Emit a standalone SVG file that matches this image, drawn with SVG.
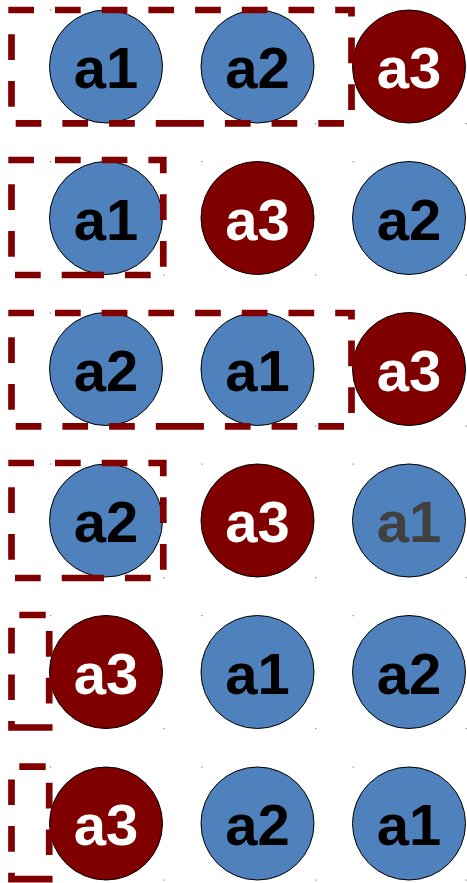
<svg xmlns="http://www.w3.org/2000/svg" width="467" height="883" viewBox="0 0 467 883">
<style>
.b{fill:#4F81BD;stroke:#000;stroke-width:1}
.r{fill:#800000;stroke:#000;stroke-width:1}
.t{font-family:"Liberation Sans",Arial,sans-serif;font-weight:bold;font-size:58px;text-anchor:middle}
.k{fill:#000}.w{fill:#fff}.g{fill:#404040}
.box{fill:none;stroke:#800000;stroke-width:6.7;stroke-linecap:butt}
.p{fill:#808080}
</style>
<rect width="467" height="883" fill="#fff"/>
<g id="dots">
<rect class="p" x="50" y="9.5" width="1.2" height="1.2"/><rect class="p" x="315" y="123" width="1.2" height="1.2"/><rect class="p" x="465.5" y="123" width="1.2" height="1.2"/>
<rect class="p" x="50" y="161" width="1.2" height="1.2"/><rect class="p" x="201.3" y="161" width="1.2" height="1.2"/><rect class="p" x="352.6" y="161" width="1.2" height="1.2"/>
<rect class="p" x="163.3" y="274.5" width="1.2" height="1.2"/><rect class="p" x="315" y="274.5" width="1.2" height="1.2"/><rect class="p" x="465.5" y="274.5" width="1.2" height="1.2"/>
<rect class="p" x="50" y="312.5" width="1.2" height="1.2"/><rect class="p" x="315" y="425.5" width="1.2" height="1.2"/><rect class="p" x="465.5" y="425.5" width="1.2" height="1.2"/>
<rect class="p" x="50" y="463.5" width="1.2" height="1.2"/><rect class="p" x="201.3" y="463.5" width="1.2" height="1.2"/><rect class="p" x="352.6" y="463.5" width="1.2" height="1.2"/>
<rect class="p" x="163.3" y="577" width="1.2" height="1.2"/><rect class="p" x="315" y="577" width="1.2" height="1.2"/><rect class="p" x="465.5" y="577" width="1.2" height="1.2"/>
<rect class="p" x="50" y="615" width="1.2" height="1.2"/><rect class="p" x="201.3" y="615" width="1.2" height="1.2"/><rect class="p" x="352.6" y="615" width="1.2" height="1.2"/>
<rect class="p" x="163.3" y="728" width="1.2" height="1.2"/><rect class="p" x="315" y="728" width="1.2" height="1.2"/><rect class="p" x="465.5" y="728" width="1.2" height="1.2"/>
<rect class="p" x="50" y="766.5" width="1.2" height="1.2"/><rect class="p" x="201.3" y="766.5" width="1.2" height="1.2"/><rect class="p" x="352.6" y="766.5" width="1.2" height="1.2"/>
<rect class="p" x="163.3" y="879.5" width="1.2" height="1.2"/><rect class="p" x="315" y="879.5" width="1.2" height="1.2"/><rect class="p" x="465.5" y="879.5" width="1.2" height="1.2"/>
</g>
<defs>
<path id="wide" class="box" d="M8.3 10H34M55 10H80.7M101.7 10H127.4M148.4 10H174.1M195.1 10H220.8M241.8 10H267.5M288.5 10H314.2M335.2 10H354.85M351.5 6.65V16.6M351.5 37.6V63.3M351.5 84.3V110M11.5 34.3V60M11.5 81V106.7M15.7 123.3H41.4M62.4 123.3H88.1M109.1 123.3H134.8M155.8 123.3H203.9M224.9 123.3H250.6M271.6 123.3H297.3M318.3 123.3H344"/>
<path id="mid" class="box" d="M8.3 160H34M55 160H80.7M101.7 160H127.4M148.4 160H166.65M163.3 156.65V173.3M163.3 194.3V220M163.3 241V266.7M11.5 184.3V210M11.5 231V256.7M15 275H40.7M61.7 275H104M125 275H150.7"/>
<path id="narrow" class="box" d="M19.3 615H45.7M11.5 627.7V653.4M11.5 674.4V700.1M11.5 721.1V730.85M49.2 631V656.7M49.2 677.7V703.4M49.2 724.4V730.85M8.15 727.5H52.55"/>
</defs>
<g id="row1">
<g id="r1a1"><circle class="b" cx="106" cy="66.5" r="56.5"/><text class="t k" x="106" y="88">a1</text></g>
<g id="r1a2"><circle class="b" cx="257.5" cy="66.5" r="56.5"/><text class="t k" x="257.5" y="88">a2</text></g>
<g id="r1a3"><circle class="r" cx="409" cy="66.5" r="56.5"/><text class="t w" x="409" y="88">a3</text></g>
<use id="r1box" href="#wide"/>
</g>
<g id="row2">
<g id="r2a1"><circle class="b" cx="106" cy="218" r="56.5"/><text class="t k" x="106" y="239.5">a1</text></g>
<g id="r2a3"><circle class="r" cx="257.5" cy="218" r="56.5"/><text class="t w" x="257.5" y="239.5">a3</text></g>
<g id="r2a2"><circle class="b" cx="409" cy="218" r="56.5"/><text class="t k" x="409" y="239.5">a2</text></g>
<use id="r2box" href="#mid"/>
</g>
<g id="row3">
<g id="r3a2"><circle class="b" cx="106" cy="369" r="56.5"/><text class="t k" x="106" y="390.5">a2</text></g>
<g id="r3a1"><circle class="b" cx="257.5" cy="369" r="56.5"/><text class="t k" x="257.5" y="390.5">a1</text></g>
<g id="r3a3"><circle class="r" cx="409" cy="369" r="56.5"/><text class="t w" x="409" y="390.5">a3</text></g>
<use id="r3box" href="#wide" y="303"/>
</g>
<g id="row4">
<g id="r4a2"><circle class="b" cx="106" cy="520.5" r="56.5"/><text class="t k" x="106" y="542">a2</text></g>
<g id="r4a3"><circle class="r" cx="257.5" cy="520.5" r="56.5"/><text class="t w" x="257.5" y="542">a3</text></g>
<g id="r4a1"><circle class="b" cx="409" cy="520.5" r="56.5"/><text class="t g" x="409" y="542">a1</text></g>
<use id="r4box" href="#mid" y="303"/>
</g>
<g id="row5">
<g id="r5a3"><circle class="r" cx="106" cy="672" r="56.5"/><text class="t w" x="106" y="693.5">a3</text></g>
<g id="r5a1"><circle class="b" cx="257.5" cy="672" r="56.5"/><text class="t k" x="257.5" y="693.5">a1</text></g>
<g id="r5a2"><circle class="b" cx="409" cy="672" r="56.5"/><text class="t k" x="409" y="693.5">a2</text></g>
<use id="r5box" href="#narrow"/>
</g>
<g id="row6">
<g id="r6a3"><circle class="r" cx="106" cy="823.5" r="56.5"/><text class="t w" x="106" y="845">a3</text></g>
<g id="r6a2"><circle class="b" cx="257.5" cy="823.5" r="56.5"/><text class="t k" x="257.5" y="845">a2</text></g>
<g id="r6a1"><circle class="b" cx="409" cy="823.5" r="56.5"/><text class="t k" x="409" y="845">a1</text></g>
<use id="r6box" href="#narrow" y="151.7"/>
</g>
<g id="connectors"/>
</svg>
